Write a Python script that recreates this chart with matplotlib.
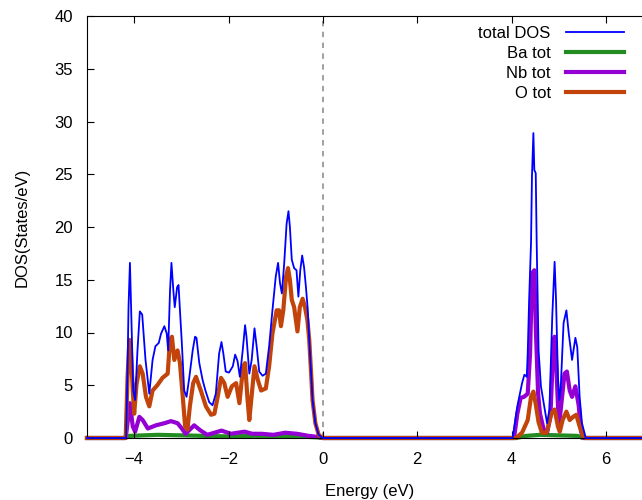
import matplotlib
matplotlib.use("Agg")
import matplotlib.pyplot as plt

plt.rcParams['font.family'] = ['Liberation Sans', 'DejaVu Sans']

# total DOS (blue)
e_tot = [-5.0, -4.17, -4.14, -4.12, -4.09, -4.06, -4.02, -3.98, -3.93, -3.88, -3.83, -3.76, -3.68,
         -3.61, -3.55, -3.48, -3.43, -3.36, -3.31, -3.28, -3.24, -3.21, -3.17, -3.14, -3.09,
         -3.06, -3.03, -2.99, -2.94, -2.89, -2.83, -2.76, -2.71, -2.68, -2.62, -2.55, -2.49,
         -2.41, -2.34, -2.27, -2.20, -2.15, -2.11, -2.06, -1.99, -1.91, -1.86, -1.81, -1.76,
         -1.70, -1.65, -1.62, -1.56, -1.51, -1.45, -1.40, -1.35, -1.28, -1.21, -1.14, -1.07,
         -1.00, -0.95, -0.91, -0.87, -0.82, -0.77, -0.73, -0.70, -0.66, -0.61, -0.56, -0.52,
         -0.48, -0.44, -0.40, -0.36, -0.32, -0.29, -0.25, -0.22, -0.16, -0.09, -0.01,
         4.02, 4.12, 4.22, 4.27, 4.32, 4.34, 4.37, 4.41, 4.43, 4.46, 4.48, 4.51, 4.53, 4.57,
         4.62, 4.69, 4.75, 4.80, 4.86, 4.91, 4.94, 4.98, 5.01, 5.04, 5.10, 5.16, 5.21, 5.28,
         5.35, 5.39, 5.44, 5.49, 5.57, 7.0]
dos_tot = [0, 0, 6.8, 12.4, 16.6, 11.5, 4.5, 3.6, 8.3, 12.0, 11.7, 7.4, 4.2,
           7.4, 8.7, 9.0, 9.9, 10.6, 9.9, 8.3, 14.0, 16.6, 14.0, 12.4, 14.3,
           14.5, 12.1, 9.0, 4.5, 3.9, 5.8, 8.3, 9.6, 9.5, 7.1, 5.5, 4.5,
           3.4, 3.1, 4.2, 8.0, 9.1, 8.0, 6.3, 6.2, 6.8, 7.9, 7.3, 5.8,
           8.3, 10.7, 9.6, 6.1, 7.4, 10.4, 8.5, 6.3, 5.9, 6.1, 8.7, 12.1,
           15.3, 16.6, 14.7, 13.7, 16.6, 20.3, 21.5, 20.0, 16.9, 16.1, 15.9, 13.4,
           15.9, 17.3, 16.2, 14.3, 12.1, 9.3, 6.1, 3.6, 1.4, 0.3, 0,
           0, 3.0, 5.2, 6.0, 5.8, 8.0, 13.1, 18.5, 24.8, 28.9, 25.4, 25.1, 18.5, 8.3,
           4.9, 3.0, 1.4, 2.7, 11.5, 16.7, 13.1, 5.8, 3.6, 4.8, 10.9, 12.1, 9.9, 7.4,
           9.5, 8.6, 3.9, 1.4, 0, 0]

# Ba tot (green)
e_ba = [-5.0, -4.2, -4.1, -3.5, -3.0, -2.5, -2.0, -1.5, -1.0, -0.5, -0.1, 0.0,
        4.1, 4.3, 4.6, 5.0, 5.4, 5.5, 7.0]
dos_ba = [0, 0, 0.2, 0.3, 0.25, 0.2, 0.15, 0.2, 0.2, 0.15, 0.05, 0,
          0, 0.2, 0.3, 0.25, 0.2, 0, 0]

# Nb tot (purple)
e_nb = [-5.0, -4.18, -4.09, -4.03, -3.98, -3.89, -3.82, -3.71, -3.54, -3.36, -3.22, -3.08,
        -2.99, -2.91, -2.73, -2.59, -2.45, -2.15, -1.95, -1.66, -1.50, -1.30, -1.05, -0.80,
        -0.55, -0.30, -0.10, 0.0,
        4.05, 4.12, 4.19, 4.26, 4.34, 4.39, 4.43, 4.48, 4.51, 4.56, 4.60, 4.69, 4.75, 4.82,
        4.87, 4.91, 4.94, 5.0, 5.04, 5.12, 5.17, 5.23, 5.28, 5.35, 5.42, 5.47, 5.53, 7.0]
dos_nb = [0, 0, 3.3, 1.1, 0.6, 2.0, 1.7, 0.9, 1.2, 1.4, 1.6, 1.4,
          0.9, 0.4, 1.2, 0.7, 0.3, 0.7, 0.4, 0.6, 0.4, 0.4, 0.3, 0.5,
          0.4, 0.2, 0.1, 0,
          0, 2.3, 3.8, 3.9, 4.2, 8.0, 15.6, 15.9, 10.6, 4.2, 2.3, 0.6, 0.5, 2.0,
          7.4, 9.6, 7.4, 1.1, 2.7, 6.1, 6.3, 4.5, 3.9, 4.9, 3.1, 0.6, 0, 0]

# O tot (orange)
e_o = [-5.0, -4.18, -4.14, -4.10, -4.07, -4.03, -4.0, -3.95, -3.88, -3.82, -3.75, -3.68,
       -3.61, -3.51, -3.40, -3.29, -3.24, -3.20, -3.15, -3.08, -3.03, -2.97, -2.92, -2.87,
       -2.82, -2.75, -2.69, -2.58, -2.48, -2.37, -2.30, -2.23, -2.16, -2.09, -2.02, -1.93,
       -1.84, -1.77, -1.69, -1.65, -1.60, -1.56, -1.50, -1.45, -1.38, -1.31, -1.21, -1.14,
       -1.07, -0.98, -0.93, -0.89, -0.84, -0.78, -0.74, -0.70, -0.66, -0.61, -0.54, -0.49,
       -0.43, -0.38, -0.33, -0.29, -0.25, -0.22, -0.16, -0.09, -0.01,
       4.09, 4.22, 4.34, 4.41, 4.46, 4.51, 4.57, 4.64, 4.74, 4.84, 4.91, 4.98, 5.02, 5.08,
       5.16, 5.23, 5.30, 5.37, 5.44, 5.51, 5.57, 7.0]
dos_o = [0, 0, 5.8, 9.3, 8.3, 4.5, 2.3, 5.1, 6.8, 6.1, 3.9, 3.0,
         4.5, 5.0, 5.7, 6.1, 9.3, 9.6, 7.4, 8.3, 7.1, 3.9, 1.1, 0.8,
         3.0, 5.2, 5.8, 4.4, 3.0, 2.2, 2.3, 3.9, 5.7, 5.2, 3.9, 4.9,
         5.2, 3.3, 6.8, 7.1, 3.8, 1.7, 4.5, 6.8, 5.5, 4.5, 4.7, 6.8,
         9.9, 12.1, 12.1, 10.6, 12.1, 15.3, 16.1, 15.0, 13.1, 12.4, 10.1, 12.4,
         13.2, 12.4, 11.2, 9.3, 6.1, 3.6, 1.4, 0.3, 0,
         0, 0.5, 1.7, 3.9, 4.4, 3.2, 1.5, 0.5, 0.5, 2.3, 2.7, 1.1, 0.6, 1.7,
         2.5, 1.7, 2.0, 2.2, 1.1, 0.2, 0, 0]

x_ticks = [-4, -2, 0, 2, 4, 6]
y_ticks = [0, 5, 10, 15, 20, 25, 30, 35, 40]

fig = plt.figure(figsize=(6.42, 5.0), dpi=100)
ax = fig.add_axes([0.1355, 0.124, 0.882, 0.844])

ax.plot(e_tot, dos_tot, color='#0000ff', lw=1.3, label='total DOS', clip_on=False, zorder=3)
ax.plot(e_ba, dos_ba, color='#228b22', lw=3, label='Ba tot', clip_on=False, zorder=1)
ax.plot(e_nb, dos_nb, color='#9400d3', lw=3, label='Nb tot', clip_on=False, zorder=1.2)
ax.plot(e_o, dos_o, color='#c2440a', lw=3, label='O tot', clip_on=False, zorder=1.5)

ax.axvline(0, color='#999999', lw=1.3, ls=(0, (3, 3)), zorder=0)

ax.set_xlim(-5, 7)
ax.set_ylim(0, 40)
ax.set_xticks(x_ticks)
ax.set_yticks(y_ticks)
ax.tick_params(direction='in', length=5, labelsize=12, top=True, right=False, pad=10)
ax.spines['right'].set_visible(False)
ax.set_xlabel('Energy (eV)', fontsize=12, labelpad=12)
ax.set_ylabel('DOS(States/eV)', fontsize=12, labelpad=18)

leg = ax.legend(loc='upper right', bbox_to_anchor=(0.985, 0.965), bbox_transform=fig.transFigure,
                frameon=False, markerfirst=False, fontsize=12, handlelength=3.5,
                handletextpad=0.9, labelspacing=0.3, borderpad=0)

fig.savefig('out.png', dpi=100)
